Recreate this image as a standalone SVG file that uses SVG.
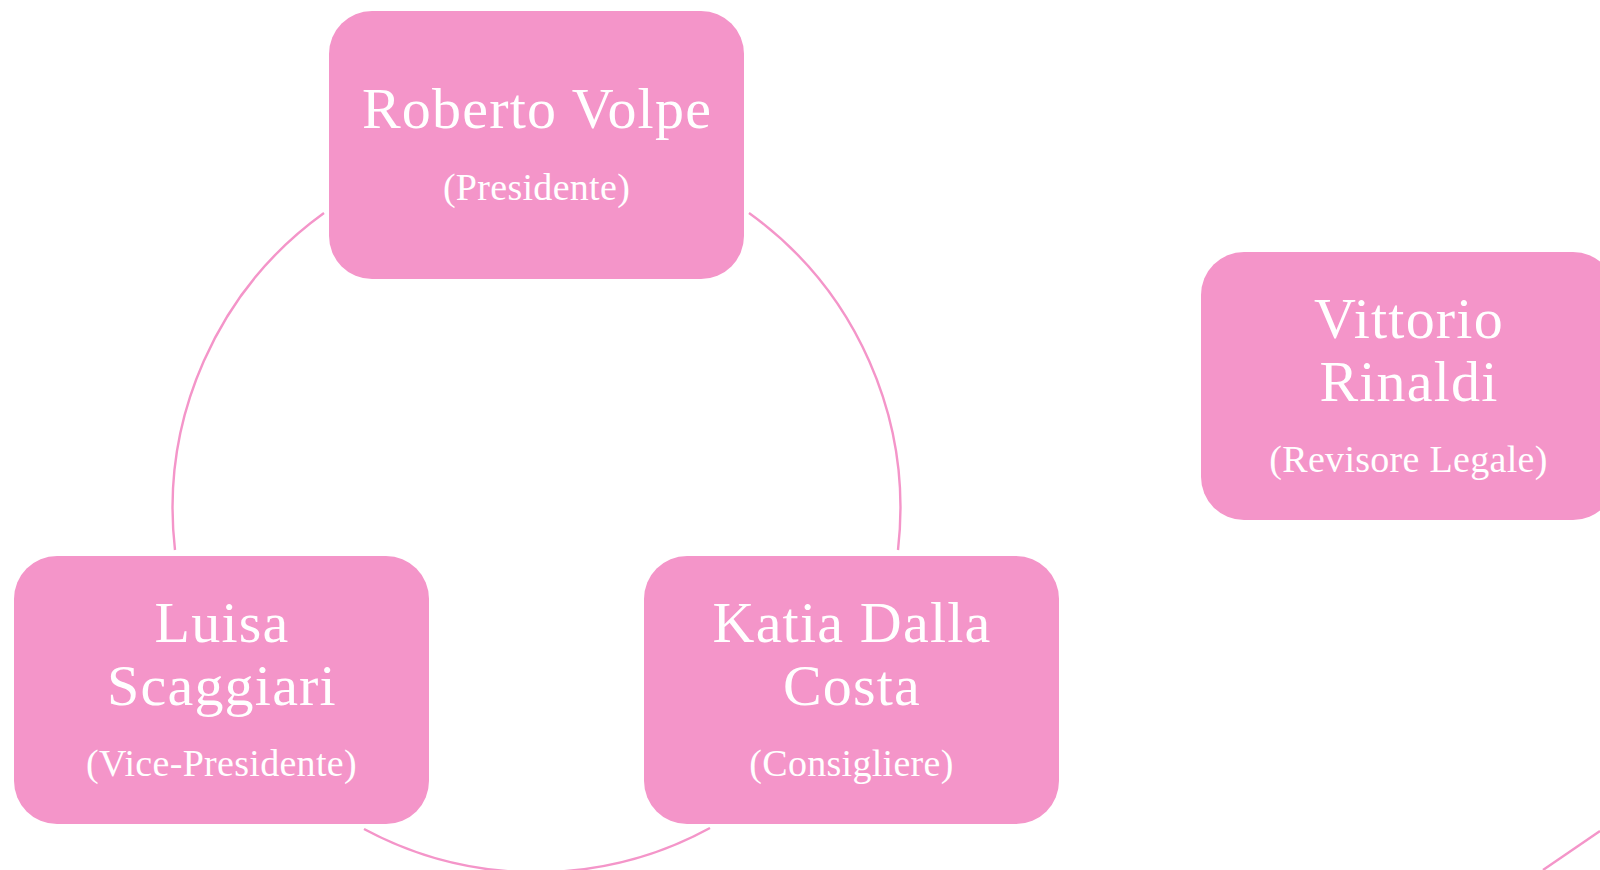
<svg xmlns="http://www.w3.org/2000/svg" width="1600" height="870" viewBox="0 0 1600 870">
<style>
.node{fill:#F495C9;}
.name{font-family:"Liberation Serif","Times New Roman",serif;font-size:58px;fill:#ffffff;text-anchor:middle;letter-spacing:1.2px;}
.role{font-family:"Liberation Serif","Times New Roman",serif;font-size:38px;fill:#ffffff;text-anchor:middle;letter-spacing:0.3px;}
.conn{fill:none;stroke:#F495C9;stroke-width:2.4;}
</style>
<rect width="1600" height="870" fill="#ffffff"/>
<g id="connectors">
<path class="conn" d="M 324 213 A 364 364 0 0 0 175 550"/>
<path class="conn" d="M 749 213 A 364 364 0 0 1 898 550"/>
<path class="conn" d="M 364 829 A 364 364 0 0 0 710 828"/>
<path class="conn" d="M 1600 831 L 1543 870"/>
</g>
<g id="node-roberto">
<rect class="node" x="329" y="11" width="415" height="268" rx="43"/>
<text class="name" x="537" y="128">Roberto Volpe</text>
<text class="role" x="536.5" y="200">(Presidente)</text>
</g>
<g id="node-luisa">
<rect class="node" x="14" y="556" width="415" height="268" rx="43"/>
<text class="name" x="222" y="642">Luisa</text>
<text class="name" x="222" y="705">Scaggiari</text>
<text class="role" x="221.5" y="776">(Vice-Presidente)</text>
</g>
<g id="node-katia">
<rect class="node" x="644" y="556" width="415" height="268" rx="43"/>
<text class="name" x="852" y="642">Katia Dalla</text>
<text class="name" x="852" y="705">Costa</text>
<text class="role" x="851.5" y="776">(Consigliere)</text>
</g>
<g id="node-vittorio">
<rect class="node" x="1201" y="252" width="415" height="268" rx="43"/>
<text class="name" x="1409" y="338">Vittorio</text>
<text class="name" x="1409" y="401">Rinaldi</text>
<text class="role" x="1408.5" y="472">(Revisore Legale)</text>
</g>
</svg>
